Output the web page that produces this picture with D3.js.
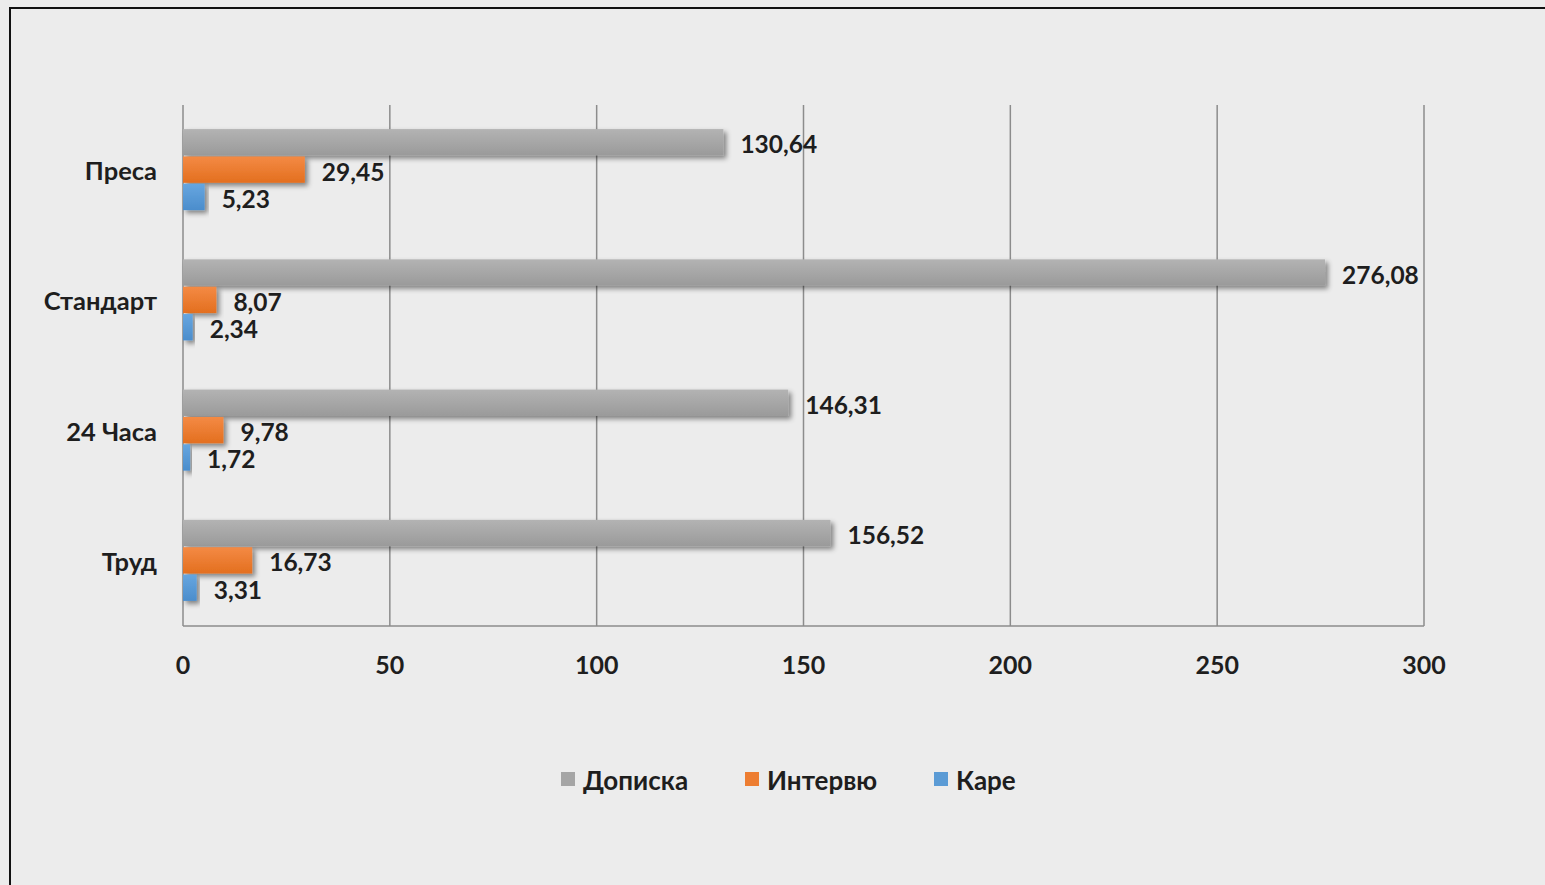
<!DOCTYPE html>
<html><head><meta charset="utf-8">
<script src="https://cdn.jsdelivr.net/npm/d3@7"></script>
<style>
html,body{margin:0;padding:0;background:#ececec;}
svg{display:block;}
text{font-family:Lato,"Open Sans",sans-serif;font-weight:bold;fill:#1e1e1e;}
</style></head>
<body>
<svg id="chart" width="1545" height="885"></svg>
<script>
const categories = ["Преса", "Стандарт", "24 Часа", "Труд"];
const seriesNames = ["Дописка", "Интервю", "Каре"];
const dopiska = [130.64, 276.08, 146.31, 156.52];
const intervyu = [29.45, 8.07, 9.78, 16.73];
const kare = [5.23, 2.34, 1.72, 3.31];
const tickValues = [0, 50, 100, 150, 200, 250, 300];
const colors = ["#a5a5a5", "#ed7d31", "#5b9bd5"];
const lightColors = ["#b3b3b3", "#f48a44", "#66a6e0"];
const darkColors = ["#9a9a9a", "#e36f1f", "#4b8dcc"];

const seriesValues = [dopiska, intervyu, kare];
const svg = d3.select("#chart");
const W = 1545, H = 885;

svg.append("rect").attr("x", 0).attr("y", 0).attr("width", W).attr("height", H).attr("fill", "#ececec");
svg.append("rect").attr("x", 10).attr("y", 8).attr("width", W + 20).attr("height", H + 20)
  .attr("fill", "none").attr("stroke", "#111").attr("stroke-width", 2);

const defs = svg.append("defs");
const f = defs.append("filter").attr("id", "shadow").attr("x", "-10%").attr("y", "-30%").attr("width", "130%").attr("height", "180%");
f.append("feDropShadow").attr("dx", 3).attr("dy", 3).attr("stdDeviation", 2.5).attr("flood-color", "#000").attr("flood-opacity", 0.45);
seriesNames.forEach((s, i) => {
  const g = defs.append("linearGradient").attr("id", "grad" + i).attr("x1", 0).attr("y1", 0).attr("x2", 0).attr("y2", 1);
  g.append("stop").attr("offset", "0%").attr("stop-color", lightColors[i]);
  g.append("stop").attr("offset", "100%").attr("stop-color", darkColors[i]);
});

const pLeft = 183, pRight = 1424, pTop = 105, pBottom = 626;
const x = d3.scaleLinear().domain([0, 300]).range([pLeft, pRight]);
const y = d3.scaleBand().domain(categories).range([pTop, pBottom]).paddingInner(0.37).paddingOuter(0.185);
const ys = d3.scaleBand().domain(seriesNames).range([0, y.bandwidth()]);

const locale = d3.formatLocale({decimal: ",", thousands: " ", grouping: [3], currency: ["", ""]});
const fmt = locale.format(".2f");

// gridlines
svg.append("g").selectAll("line").data(tickValues).join("line")
  .attr("x1", d => x(d)).attr("x2", d => x(d)).attr("y1", pTop).attr("y2", pBottom)
  .attr("stroke", "#8c8c8c").attr("stroke-width", 1.5);
svg.append("line").attr("x1", pLeft).attr("x2", pRight).attr("y1", pBottom).attr("y2", pBottom)
  .attr("stroke", "#8c8c8c").attr("stroke-width", 1.5);

// x tick labels
svg.append("g").selectAll("text").data(tickValues).join("text")
  .attr("x", d => x(d)).attr("y", 664).attr("text-anchor", "middle").attr("dominant-baseline", "central")
  .attr("font-size", 25).text(d => d);

// category labels
svg.append("g").selectAll("text").data(categories).join("text")
  .attr("x", 157).attr("y", d => y(d) + y.bandwidth() / 2).attr("text-anchor", "end")
  .attr("dominant-baseline", "central").attr("font-size", 25.5).text(d => d);

// bars
const data = [];
categories.forEach((c, ci) => seriesNames.forEach((s, si) => data.push({c, s, si, v: seriesValues[si][ci]})));
const bars = svg.append("g");
bars.selectAll("rect").data(data).join("rect")
  .attr("x", x(0)).attr("y", d => y(d.c) + ys(d.s))
  .attr("width", d => x(d.v) - x(0)).attr("height", ys.bandwidth() - 1)
  .attr("fill", d => `url(#grad${d.si})`).attr("filter", "url(#shadow)");

svg.append("g").selectAll("text").data(data).join("text")
  .attr("x", d => x(d.v) + 17).attr("y", d => y(d.c) + ys(d.s) + ys.bandwidth() / 2 + 1)
  .attr("dominant-baseline", "central").attr("font-size", 24.5).text(d => fmt(d.v));

// legend
const legendX = [561, 745, 934];
const lg = svg.append("g").selectAll("g").data(seriesNames).join("g")
  .attr("transform", (d, i) => `translate(${legendX[i]},779)`);
lg.append("rect").attr("x", 0).attr("y", -7).attr("width", 14).attr("height", 14).attr("fill", (d, i) => colors[i]);
lg.append("text").attr("x", 22).attr("y", 1).attr("dominant-baseline", "central").attr("font-size", 26).text(d => d);
</script>
</body></html>
